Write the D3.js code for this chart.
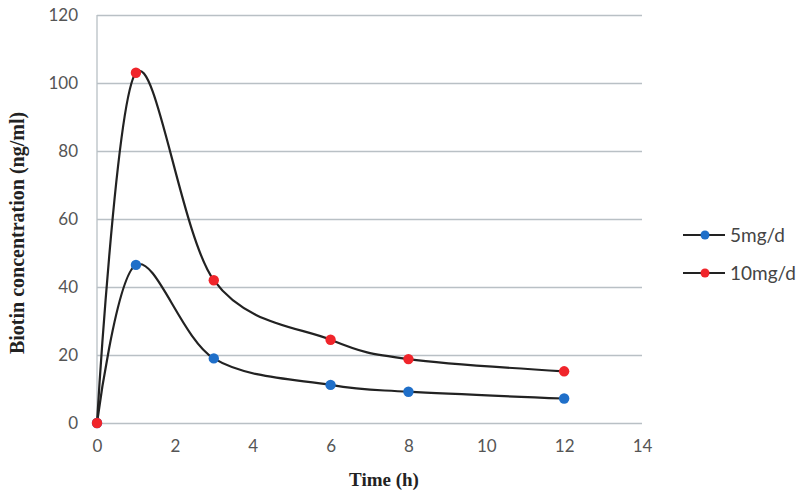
<!DOCTYPE html>
<html><head><meta charset="utf-8">
<script src="https://cdn.jsdelivr.net/npm/d3@7"></script>
<style>body{margin:0;background:#fff}</style>
</head><body>
<svg id="c" width="800" height="496"></svg>
<script>
const times = [0, 1, 3, 6, 8, 12];
const series5 = [0, 46.5, 19, 11.2, 9.2, 7.2];
const series10 = [0, 103, 42, 24.5, 18.8, 15.2];
const seriesNames = ["5mg/d", "10mg/d"];
const seriesColors = ["#1f6fc9", "#f0252b"];
const xTicks = [0, 2, 4, 6, 8, 10, 12, 14];
const yTicks = [0, 20, 40, 60, 80, 100, 120];

const svg = d3.select("#c");
const L = 97, R = 642, T = 15, B = 423;
const x = d3.scaleLinear().domain([0, 14]).range([L, R]);
const y = d3.scaleLinear().domain([0, 120]).range([B, T]);

// gridlines
const gy = svg.append("g").attr("transform", `translate(${L},0)`)
  .call(d3.axisLeft(y).tickValues(yTicks).tickSize(-(R - L)).tickPadding(19).tickFormat(d3.format("d")));
gy.select(".domain").remove();
gy.selectAll(".tick line").attr("stroke", "#b9c0c5").attr("stroke-width", 1.3);
gy.selectAll(".tick text").attr("font-family", "Lato, sans-serif").attr("font-size", 17).attr("fill", "#555");

// vertical axis line
svg.append("line").attr("x1", L).attr("x2", L).attr("y1", T).attr("y2", B)
  .attr("stroke", "#b9c0c5").attr("stroke-width", 1.3);

const gx = svg.append("g").attr("transform", `translate(0,${B})`)
  .call(d3.axisBottom(x).tickValues(xTicks).tickSize(0).tickPadding(17).tickFormat(d3.format("d")));
gx.select(".domain").remove();
gx.selectAll(".tick text").attr("font-family", "Lato, sans-serif").attr("font-size", 17).attr("fill", "#555");

const data = [series5, series10];
const line = d3.line().x((d, i) => x(times[i])).y(d => y(d)).curve(d3.curveCardinal.tension(0));
data.forEach((s, k) => {
  svg.append("path").attr("d", line(s)).attr("fill", "none").attr("stroke", "#222").attr("stroke-width", 2.2);
});
data.forEach((s, k) => {
  svg.selectAll(null).data(s).enter().append("circle")
    .attr("cx", (d, i) => x(times[i])).attr("cy", d => y(d)).attr("r", 5.2)
    .attr("fill", seriesColors[k]);
});

// axis titles
svg.append("text").attr("transform", `translate(24,233) rotate(-90)`)
  .attr("text-anchor", "middle").attr("font-family", "'Liberation Serif', serif").attr("font-weight", "bold")
  .attr("font-size", 20).attr("fill", "#222").text("Biotin concentration (ng/ml)");
svg.append("text").attr("x", 384).attr("y", 486).attr("text-anchor", "middle")
  .attr("font-family", "'Liberation Serif', serif").attr("font-weight", "bold")
  .attr("font-size", 19).attr("fill", "#222").text("Time (h)");

// legend
const legY = [235, 273];
seriesNames.forEach((n, k) => {
  const g = svg.append("g").attr("transform", `translate(0,${legY[k]})`);
  g.append("line").attr("x1", 683).attr("x2", 725).attr("y1", 0).attr("y2", 0).attr("stroke", "#222").attr("stroke-width", 2.2);
  g.append("circle").attr("cx", 705).attr("cy", 0).attr("r", 4.5).attr("fill", seriesColors[k]);
  g.append("text").attr("x", 730).attr("y", 7).attr("font-family", "Lato, sans-serif").attr("font-size", 19)
    .attr("fill", "#444").text(n);
});
</script>
</body></html>
